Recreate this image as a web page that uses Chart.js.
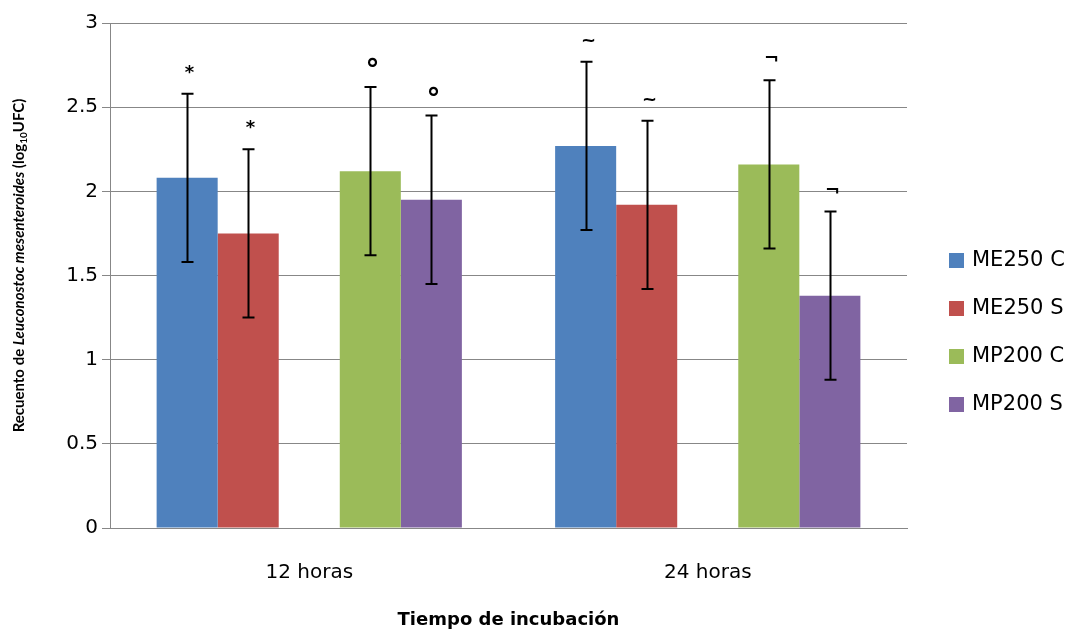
<!DOCTYPE html>
<html>
<head>
<meta charset="utf-8">
<script src="https://cdn.jsdelivr.net/npm/chart.js@4/dist/chart.umd.min.js"></script>
<style>
  html, body { margin: 0; padding: 0; background: #fff; }
  #chart { display: block; }
</style>
</head>
<body>
<canvas id="chart" width="1070" height="634"></canvas>
<script>
const categories = ['12 horas', '24 horas'];

const me250C = [2.08, 2.27];
const me250S = [1.75, 1.92];
const mp200C = [2.12, 2.16];
const mp200S = [1.95, 1.38];

const me250CErr = [0.5, 0.5];
const me250SErr = [0.5, 0.5];
const mp200CErr = [0.5, 0.5];
const mp200SErr = [0.5, 0.5];

const me250CMark = ['*', '~'];
const me250SMark = ['*', '~'];
const mp200CMark = ['°', '¬'];
const mp200SMark = ['°', '¬'];

const yTicks = [0, 0.5, 1, 1.5, 2, 2.5, 3];

const tickFont = { family: 'DejaVu Sans', size: 20 };

// draws error bars + the significance marks above them
const errorBars = {
    id: 'errorBars',
    afterDatasetsDraw(chart) {
        const ctx = chart.ctx;
        const y = chart.scales.y;
        ctx.save();
        chart.data.datasets.forEach((ds, i) => {
            if (!ds.errors) return;
            const meta = chart.getDatasetMeta(i);
            meta.data.forEach((bar, j) => {
                const v = ds.data[j];
                const e = ds.errors[j];
                const top = y.getPixelForValue(v + e);
                const bot = y.getPixelForValue(v - e);
                const x = Math.round(bar.x) + 0.5;
                ctx.strokeStyle = '#000';
                ctx.lineWidth = 2;
                ctx.beginPath();
                ctx.moveTo(x, top);
                ctx.lineTo(x, bot);
                ctx.moveTo(x - 6, top);
                ctx.lineTo(x + 6, top);
                ctx.moveTo(x - 6, bot);
                ctx.lineTo(x + 6, bot);
                ctx.stroke();

                const m = ds.marks[j];
                const isDeg = m === '°';
                ctx.fillStyle = '#000';
                ctx.font = isDeg ? 'bold 28px "DejaVu Sans"' : 'bold 18px "DejaVu Sans"';
                ctx.textAlign = 'center';
                ctx.textBaseline = 'alphabetic';
                ctx.fillText(m, x + 2, isDeg ? top - 8 : top - 16);
            });
        });
        ctx.restore();
    }
};

const sideLegend = {
    id: 'sideLegend',
    afterDraw(chart) {
        const ctx = chart.ctx;
        const area = chart.chartArea;
        ctx.save();
        let row = 0;
        chart.data.datasets.forEach(ds => {
            if (!ds.label) return;
            const cy = area.top + 237 + row * 48;
            ctx.fillStyle = ds.backgroundColor;
            ctx.fillRect(area.right + 42, cy - 7, 15, 15);
            ctx.fillStyle = '#000';
            ctx.font = '21px "DejaVu Sans"';
            ctx.textAlign = 'left';
            ctx.textBaseline = 'middle';
            ctx.fillText(ds.label, area.right + 65, cy + 1);
            row++;
        });

        // y axis title with italic species name and subscript
        const parts = [
            { t: 'Recuento de ', f: 'bold 15px Lato' },
            { t: 'Leuconostoc mesenteroides', f: 'italic bold 15px Lato' },
            { t: ' (log', f: 'bold 15px Lato' },
            { t: '10', f: 'bold 10px Lato', sub: true },
            { t: 'UFC)', f: 'bold 15px Lato' }
        ];
        let total = 0;
        parts.forEach(p => { ctx.font = p.f; p.w = ctx.measureText(p.t).width; total += p.w; });
        ctx.translate(24, (area.top + area.bottom) / 2 - 10);
        ctx.rotate(-Math.PI / 2);
        ctx.textAlign = 'left';
        ctx.textBaseline = 'alphabetic';
        let px = -total / 2;
        parts.forEach(p => {
            ctx.font = p.f;
            ctx.fillText(p.t, px, p.sub ? 3 : 0);
            px += p.w;
        });
        ctx.restore();
    }
};

new Chart(document.getElementById('chart').getContext('2d'), {
    type: 'bar',
    data: {
        labels: categories,
        datasets: [
            { label: 'ME250 C', data: me250C, errors: me250CErr, marks: me250CMark, backgroundColor: '#4F81BD' },
            { label: 'ME250 S', data: me250S, errors: me250SErr, marks: me250SMark, backgroundColor: '#C0504D' },
            { label: '', data: [null, null], backgroundColor: 'rgba(0,0,0,0)' },
            { label: 'MP200 C', data: mp200C, errors: mp200CErr, marks: mp200CMark, backgroundColor: '#9BBB59' },
            { label: 'MP200 S', data: mp200S, errors: mp200SErr, marks: mp200SMark, backgroundColor: '#8064A2' }
        ]
    },
    options: {
        responsive: false,
        animation: false,
        categoryPercentage: 0.766,
        barPercentage: 1,
        layout: {
            padding: { top: 23, right: 163, bottom: 0, left: 0 }
        },
        plugins: {
            legend: { display: false },
            tooltip: { enabled: false }
        },
        scales: {
            x: {
                grid: { display: false, drawTicks: false },
                border: { display: true, color: '#878787', width: 1 },
                ticks: { font: tickFont, color: '#000', padding: 33 },
                title: {
                    display: true,
                    text: 'Tiempo de incubación',
                    color: '#000',
                    font: { family: 'DejaVu Sans', size: 18, weight: 'bold' },
                    padding: { top: 0, bottom: 3 }
                },
                afterFit(scale) { scale.height = 106; }
            },
            y: {
                min: 0,
                max: 3,
                afterBuildTicks(scale) { scale.ticks = yTicks.map(v => ({ value: v })); },
                grid: { color: '#878787', lineWidth: 1, tickLength: 8 },
                border: { display: true, color: '#878787', width: 1 },
                ticks: { font: tickFont, color: '#000', padding: 4, callback: v => String(v) },
                afterFit(scale) { scale.width = 110; }
            }
        }
    },
    plugins: [errorBars, sideLegend]
});
</script>
</body>
</html>
